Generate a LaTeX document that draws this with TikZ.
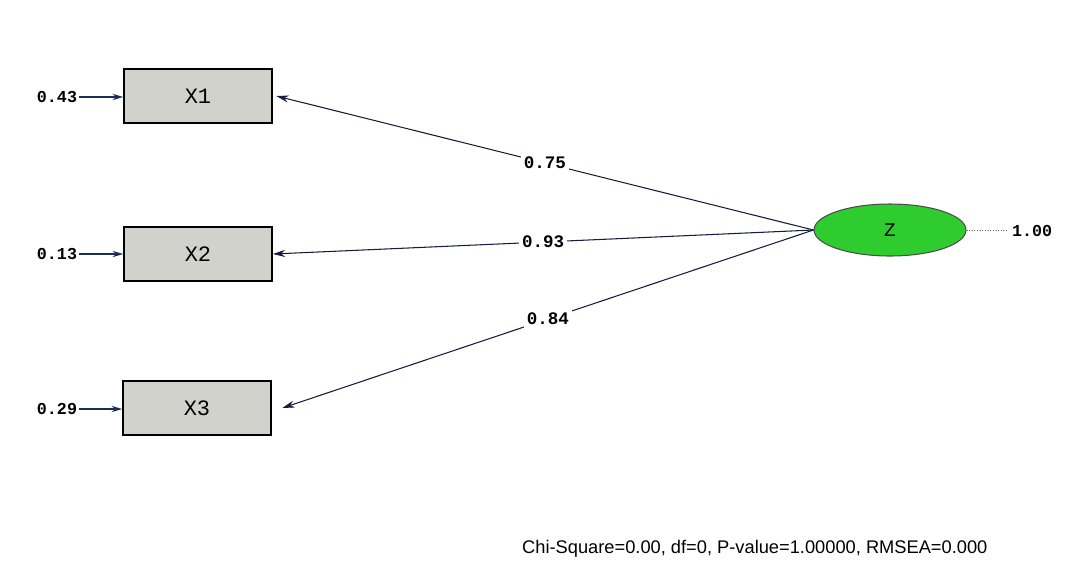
\documentclass[tikz,border=0pt]{standalone}
\usepackage{fontspec}
\setmainfont{Liberation Sans}
\newfontfamily\labfont{Liberation Mono}
\usetikzlibrary{arrows.meta,shapes.geometric}
\definecolor{boxgray}{HTML}{D2D2CC}
\definecolor{latgreen}{HTML}{2ECC2E}
\definecolor{pathblue}{HTML}{1F2A55}
\tikzset{
  obsbox/.style={draw=black, line width=0.9pt, fill=boxgray, minimum width=2.96cm, minimum height=1.08cm, inner sep=0pt, font=\labfont\fontsize{12.5}{14}\selectfont},
  latent/.style={draw=black!70, line width=0.6pt, fill=latgreen, ellipse, minimum width=3.04cm, minimum height=1.04cm, inner sep=0pt, font=\labfont\fontsize{11}{13}\selectfont},
  errlab/.style={font=\labfont\bfseries\fontsize{9.5}{11}\selectfont, inner sep=1pt},
  coef/.style={font=\labfont\bfseries\fontsize{10}{12}\selectfont, fill=white, inner sep=1.5pt},
  loading/.style={draw=pathblue!70!black, line width=0.6pt, -{Stealth[length=7pt,width=4pt]}},
  errarrow/.style={draw=pathblue, line width=0.9pt, -{Stealth[length=6pt,width=3.5pt]}},
}
\begin{document}
\begin{tikzpicture}[x=0.02cm, y=-0.02cm]
  \useasboundingbox[fill=white] (0,0) rectangle (1072,569);

  % observed indicators
  \node[obsbox] (x1) at (198,96) {X1};
  \node[obsbox] (x2) at (198,254) {X2};
  \node[obsbox] (x3) at (197,408) {X3};

  % latent factor
  \node[latent] (z) at (890,230) {Z};

  % error variances
  \node[errlab] (e1) at (57,97) {0.43};
  \node[errlab] (e2) at (57,254) {0.13};
  \node[errlab] (e3) at (57,409) {0.29};
  \draw[errarrow] (e1.east) -- (x1.west |- e1.east);
  \draw[errarrow] (e2.east) -- (x2.west |- e2.east);
  \draw[errarrow] (e3.east) -- (x3.west |- e3.east);

  % factor variance
  \coordinate (zv) at (1008,230);
  \node[errlab, anchor=west] (v) at (1010,231) {1.00};
  \draw[densely dotted, line width=0.5pt, black!60] (z.east) -- (zv);

  % loadings
  \draw[loading] (z.west) -- node[coef, pos=0.5] {0.75} ([xshift=2pt]x1.east);
  \draw[loading] (z.west) -- node[coef, pos=0.5] {0.93} (x2.east);
  \draw[loading] (z.west) -- node[coef, pos=0.5] {0.84} ([xshift=6pt]x3.east);

  % fit statistics
  \node[font=\fontsize{10.4}{12}\selectfont, anchor=west] (fit) at (516,549)
    {Chi-Square=0.00, df=0, P-value=1.00000, RMSEA=0.000};
\end{tikzpicture}
\end{document}
